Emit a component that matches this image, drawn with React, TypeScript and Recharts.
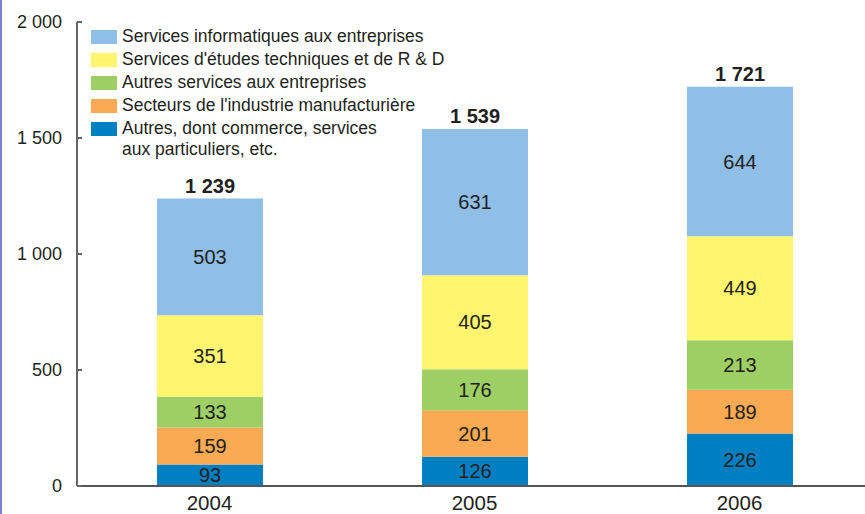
import React from "react";
import { Bar, BarChart, LabelList, XAxis, YAxis } from "recharts";

const years = ["2004", "2005", "2006"];
const autres = [93, 126, 226];
const industrie = [159, 201, 189];
const autresServices = [133, 176, 213];
const etudes = [351, 405, 449];
const informatique = [503, 631, 644];
const totals = [1239, 1539, 1721];
const yTicks = [0, 500, 1000, 1500, 2000];

const series = [
  { key: "autres", name: "Autres, dont commerce, services\naux particuliers, etc.", color: "#0080c3" },
  { key: "industrie", name: "Secteurs de l'industrie manufacturière", color: "#f9aa52" },
  { key: "autresServices", name: "Autres services aux entreprises", color: "#9dcf64" },
  { key: "etudes", name: "Services d'études techniques et de R & D", color: "#fff56f" },
  { key: "informatique", name: "Services informatiques aux entreprises", color: "#8fbee6" },
];

const data = years.map((year, i) => ({
  year,
  autres: autres[i],
  industrie: industrie[i],
  autresServices: autresServices[i],
  etudes: etudes[i],
  informatique: informatique[i],
  total: totals[i],
}));

const FONT = "'Liberation Sans', Arial, sans-serif";
const TEXT = "#231f20";

const fmt = (v: number) => String(v).replace(/\B(?=(\d{3})+(?!\d))/g, " ");

function YTick(props: any) {
  const { x, y, payload } = props;
  return (
    <g>
      <line x1={x} x2={x + 5} y1={y} y2={y} stroke="#666" strokeWidth={2} />
      <text x={x - 15} y={y} dy={6} textAnchor="end" fontSize={18} fill={TEXT} fontFamily={FONT}>
        {fmt(payload.value)}
      </text>
    </g>
  );
}

function TotalLabel(props: any) {
  const { x, y, width, index } = props;
  return (
    <text x={x + width / 2} y={y - 6} textAnchor="middle" fontSize={20} fontWeight="bold" fill={TEXT} fontFamily={FONT}>
      {fmt(totals[index])}
    </text>
  );
}

export default function App() {
  const legendItems = [...series].reverse();
  return (
    <div
      style={{
        position: "absolute",
        left: 0,
        top: 0,
        width: 865,
        height: 514,
        overflow: "hidden",
        background: "#fff",
        fontFamily: FONT,
      }}
    >
      <div style={{ position: "absolute", left: 0, top: 0, width: 2, height: 514, background: "#7d80c8" }} />
      <BarChart
        width={880}
        height={514}
        data={data}
        margin={{ top: 22, right: 8, bottom: 0, left: 0 }}
      >
        <XAxis
          dataKey="year"
          height={28}
          tickLine={false}
          axisLine={{ stroke: "#555", strokeWidth: 2 }}
          tickSize={0}
          tickMargin={9}
          tick={{ fontSize: 20.5, fill: TEXT, fontFamily: FONT }}
        />
        <YAxis
          width={77}
          domain={[0, 2000]}
          ticks={yTicks}
          tickLine={false}
          tickSize={0}
          tickMargin={0}
          axisLine={{ stroke: "#666", strokeWidth: 2 }}
          tick={<YTick />}
        />
        {series.map((s, i) => (
          <Bar key={s.key} dataKey={s.key} stackId="a" fill={s.color} barSize={106} isAnimationActive={false}>
            <LabelList dataKey={s.key} position="center" fontSize={20} fill={TEXT} fontFamily={FONT} />
            {i === series.length - 1 && <LabelList dataKey="total" content={<TotalLabel />} />}
          </Bar>
        ))}
      </BarChart>
      <div style={{ position: "absolute", left: 91, top: 28, fontSize: 17.5, color: TEXT }}>
        {legendItems.map((s) => (
          <div key={s.key} style={{ display: "flex", alignItems: "flex-start", height: s.key === "autres" ? 46 : 23 }}>
            <div style={{ width: 26, height: 14, background: s.color, marginTop: 2, marginRight: 5, flexShrink: 0 }} />
            <div style={{ whiteSpace: "pre", lineHeight: "21px", marginTop: -2 }}>{s.name}</div>
          </div>
        ))}
      </div>
    </div>
  );
}
